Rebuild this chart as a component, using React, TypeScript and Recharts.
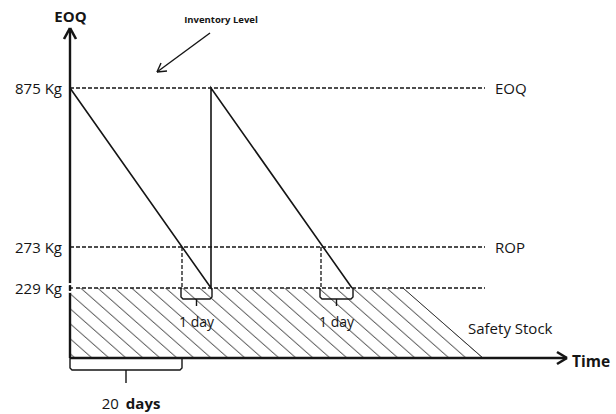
import React from 'react';
import { ComposedChart, XAxis, YAxis, Line, Area, ReferenceLine, ReferenceDot } from 'recharts';

// Schematic diagram: plot units are drawn distances (not to scale), x = time, y = stock
const levelLabels = ['875 Kg', '273 Kg', '229 Kg'];
const levelNames = ['EOQ', 'ROP', ''];
const levelHeights = [270, 111, 70];
const levelLineEnd = 415;

const cycleTimes = [0, 141, 141, 282];
const cycleStock = [270, 70, 270, 70];

const reorderTimes = [112, 251];
const receiptTimes = [141, 282];
const leadLabels = ['1 day', '1  day'];

const safetyTimes = [0, 333, 413];
const safetyStock = [70, 70, 0];

const axisTop = 330;
const axisRight = 497;

const INK = '#151515';
const FONT = '"Open Sans", "Noto Sans", sans-serif';

const sawData = cycleTimes.map((x, i) => ({ x, y: cycleStock[i] }));
const safetyData = safetyTimes.map((x, i) => ({ x, y: safetyStock[i] }));

const brace = (a: number, b: number, top: number, depth: number, tick: number) => [
  { x: a, y: top },
  { x: a, y: top - depth + 2 },
  { x: a + 2, y: top - depth },
  { x: (a + b) / 2, y: top - depth },
  { x: (a + b) / 2, y: top - depth - tick },
  { x: (a + b) / 2, y: top - depth },
  { x: b - 2, y: top - depth },
  { x: b, y: top - depth + 2 },
  { x: b, y: top },
];

const leadBraces = reorderTimes.map((t, i) => brace(t - 1, receiptTimes[i] + 1, levelHeights[2], 11, 7));
const cycleBrace = brace(0, reorderTimes[0], 0, 12, 13);

const txt = (key: string, x: number, y: number, content: React.ReactNode, opts: any = {}) => (
  <ReferenceDot
    key={key}
    x={x}
    y={y}
    r={0}
    ifOverflow="visible"
    shape={(p: any) => (
      <text
        x={p.cx}
        y={p.cy}
        fill={INK}
        fontFamily={FONT}
        fontSize={opts.size || 15}
        fontWeight={opts.weight || 'normal'}
        textAnchor={opts.anchor || 'start'}
        dominantBaseline="central"
      >
        {content}
      </text>
    )}
  />
);

const seg = (key: string, x1: number, y1: number, x2: number, y2: number, props: any = {}) => (
  <ReferenceLine
    key={key}
    segment={[{ x: x1, y: y1 }, { x: x2, y: y2 }]}
    stroke={INK}
    strokeWidth={1.4}
    ifOverflow="visible"
    {...props}
  />
);

export default function App() {
  return (
    <div style={{ position: 'absolute', left: 0, top: 0, width: 616, height: 414, background: '#fff' }}>
      <svg width={0} height={0} style={{ position: 'absolute' }}>
        <defs>
          <pattern id="hatch" patternUnits="userSpaceOnUse" width={17} height={15} x={9.3} y={0}>
            <path d="M-1.7,-1.5 L18.7,16.5 M-18.7,-1.5 L1.7,16.5 M15.3,-1.5 L35.7,16.5" stroke="#333" strokeWidth={1} />
          </pattern>
        </defs>
      </svg>
      <ComposedChart width={616} height={414} margin={{ top: 0, right: 0, bottom: 0, left: 0 }}>
        <XAxis type="number" dataKey="x" domain={[-70, 546]} allowDataOverflow hide />
        <YAxis type="number" dataKey="y" domain={[-56, 358]} allowDataOverflow hide />

        <Area
          data={safetyData}
          dataKey="y"
          type="linear"
          baseValue={0}
          stroke="none"
          fill="url(#hatch)"
          fillOpacity={1}
          isAnimationActive={false}
        />
        {seg('ss-edge', safetyTimes[1], safetyStock[1], safetyTimes[2], safetyStock[2], { stroke: '#333', strokeWidth: 1 })}

        {levelHeights.map((h, i) =>
          seg(`lvl-${i}`, 0, h, levelLineEnd, h, { strokeDasharray: '4 2', strokeWidth: 1.5 })
        )}
        {reorderTimes.map((t, i) =>
          seg(`rop-${i}`, t, levelHeights[1], t, levelHeights[2], { strokeDasharray: '4 2', strokeWidth: 1.3 })
        )}

        <Line data={sawData} dataKey="y" type="linear" stroke={INK} strokeWidth={1.6} dot={false} activeDot={false} isAnimationActive={false} />

        {leadBraces.map((b, i) => (
          <Line key={`lb-${i}`} data={b} dataKey="y" type="linear" stroke={INK} strokeWidth={1.4} dot={false} activeDot={false} isAnimationActive={false} />
        ))}
        <Line data={cycleBrace} dataKey="y" type="linear" stroke={INK} strokeWidth={1.4} dot={false} activeDot={false} isAnimationActive={false} />

        {seg('y-axis', 0, 0, 0, axisTop, { strokeWidth: 2.4 })}
        {seg('x-axis', 0, 0, axisRight, 0, { strokeWidth: 2.4 })}
        {seg('y-arr-l', -6, axisTop - 11, 0, axisTop, { strokeWidth: 2.6 })}
        {seg('y-arr-r', 6, axisTop - 11, 0, axisTop, { strokeWidth: 2.6 })}
        {seg('x-arr-u', axisRight - 10, 6, axisRight, 0, { strokeWidth: 2.6 })}
        {seg('x-arr-d', axisRight - 10, -6, axisRight, 0, { strokeWidth: 2.6 })}

        {seg('inv-arrow', 140, 325, 87, 286, { strokeWidth: 1.4 })}
        {seg('inv-arr-a', 91, 295, 87, 286, { strokeWidth: 1.4 })}
        {seg('inv-arr-b', 97, 287, 87, 286, { strokeWidth: 1.4 })}

        {txt('t-eoq', 0.5, 342, 'EOQ', { weight: 'bold', anchor: 'middle', size: 15 })}
        {txt('t-inv', 151, 338.5, 'Inventory Level', { weight: 'bold', anchor: 'middle', size: 9.5 })}
        {levelLabels.map((l, i) => txt(`yl-${i}`, -8, levelHeights[i], l, { anchor: 'end' }))}
        {levelNames.map((n, i) => (n ? txt(`ln-${i}`, 425, levelHeights[i], n) : null))}
        {leadLabels.map((l, i) =>
          txt(`lead-${i}`, (reorderTimes[i] + receiptTimes[i]) / 2, 37, l, { anchor: 'middle', size: 14 })
        )}
        {txt('t-ss', 398, 30, 'Safety Stock')}
        {txt('t-time', 502, -3, 'Time', { weight: 'bold', size: 15.5 })}
        {txt(
          't-days',
          31.7,
          -44.7,
          <>
            <tspan>20</tspan>
            <tspan dx={7} fontWeight="bold">days</tspan>
          </>,
          { size: 15 }
        )}
      </ComposedChart>
    </div>
  );
}
